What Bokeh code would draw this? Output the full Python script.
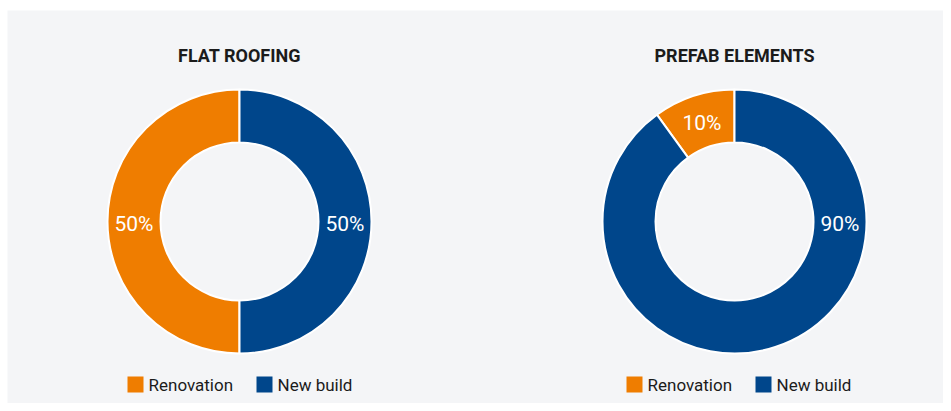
import math
from bokeh.plotting import figure
from bokeh.models import ColumnDataSource, Range1d
from bokeh.core.properties import value
from bokeh.embed import file_html
from bokeh.resources import INLINE

# ---- data ----
titles = ["FLAT ROOFING", "PREFAB ELEMENTS"]
categories = ["Renovation", "New build"]
flat_roofing = [50, 50]
prefab_elements = [10, 90]
series = [flat_roofing, prefab_elements]
colors = ["#EF7D00", "#00468B"]
# angle (deg, anticlockwise from 3 o'clock) where each percent label sits
label_angles = [[180, 0], [108, 0]]

# ---- layout (pixels) ----
FW, FH = 943, 403
LEFT, TOP = 7, 10
W, H = FW - LEFT, FH - TOP
centers_x = [232, 727]
center_y = 182
outer_r, inner_r = 132, 79
title_y = 348.5
legend_y = 19
legend_square_x = [[128, 257], [627, 756]]

BG = "#F4F5F7"
TXT = "#1B1B1B"
FONT = "Roboto"

p = figure(width=FW, height=FH, output_backend="svg", toolbar_location=None,
           x_range=Range1d(0, W), y_range=Range1d(0, H),
           min_border_left=LEFT, min_border_right=0, min_border_bottom=0, min_border_top=TOP)
p.border_fill_color = "white"
p.background_fill_color = BG
p.outline_line_color = None
p.axis.visible = False
p.grid.visible = False

for ci, vals in enumerate(series):
    total = float(sum(vals))
    starts, ends = [], []
    cum = 0.0
    for v in vals:
        starts.append(math.radians(90 + 360 * cum / total))
        cum += v
        ends.append(math.radians(90 + 360 * cum / total))
    src = ColumnDataSource(dict(
        x=[centers_x[ci]] * len(vals), y=[center_y] * len(vals),
        start=starts, end=ends, color=colors[:len(vals)],
    ))
    p.annular_wedge(x="x", y="y", inner_radius=inner_r, outer_radius=outer_r,
                    start_angle="start", end_angle="end", fill_color="color",
                    line_color="white", line_width=2, source=src)

    mid_r = (inner_r + outer_r) / 2
    lx = [centers_x[ci] + mid_r * math.cos(math.radians(a)) for a in label_angles[ci]]
    ly = [center_y + mid_r * math.sin(math.radians(a)) for a in label_angles[ci]]
    labels = [f"{round(100 * v / total)}%" for v in vals]
    p.text(x=lx, y=ly, text=labels, text_color="white", text_align="center",
           text_baseline="middle", text_font=value(FONT), text_font_size="21px",
           y_offset=2)

    p.text(x=[centers_x[ci]], y=[title_y], text=[titles[ci]], text_color=TXT,
           text_align="center", text_baseline="middle", text_font=value(FONT),
           text_font_size="18px", text_font_style="bold")

    sq_x = legend_square_x[ci]
    p.rect(x=sq_x, y=[legend_y] * 2, width=16, height=16,
           width_units="screen", height_units="screen",
           fill_color=colors, line_color=None)
    p.text(x=[sx + 13 for sx in sq_x], y=[legend_y] * 2, text=categories,
           text_color=TXT, text_align="left", text_baseline="middle",
           text_font=value(FONT), text_font_size="17px")

open("out.html", "w").write(file_html(p, INLINE))
